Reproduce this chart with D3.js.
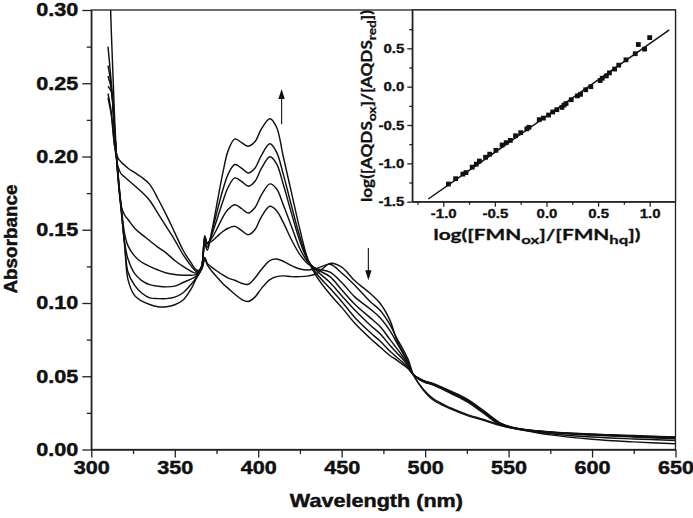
<!DOCTYPE html>
<html><head><meta charset="utf-8">
<script src="https://cdn.jsdelivr.net/npm/d3@7"></script>
<style>body{margin:0;background:#fff} svg{display:block}</style>
</head><body><svg id="c" width="693" height="518"></svg>
<script>
// ---------- DATA ----------
const wavelengths = [310,312,314,316,318,320,322,326,330,335,340,345,350,355,360,363,366,368,369.5,372,375,379,382,386,390,394,398,402,407,411,415,420,425,430,435,443,450,458,467,473,479,483,486,490,493,499,505,515,525,535,545,555,575,600,625,650];
const spectrum1 = [0.360,0.285,0.225,0.185,0.162,0.139,0.116,0.105,0.1015,0.099,0.0975,0.0975,0.0988,0.102,0.110,0.117,0.123,0.140,0.136,0.148,0.166,0.190,0.204,0.212,0.2095,0.2070,0.2100,0.2190,0.2258,0.2200,0.2000,0.1750,0.1500,0.1290,0.1180,0.1060,0.0970,0.0860,0.0760,0.0700,0.0640,0.0610,0.0585,0.0550,0.0510,0.0470,0.0450,0.0400,0.0345,0.0265,0.0182,0.0145,0.0120,0.0105,0.0095,0.0086];
const spectrum2 = [0.275,0.250,0.218,0.186,0.163,0.140,0.121,0.112,0.107,0.1035,0.1030,0.1030,0.1040,0.1070,0.1130,0.1175,0.1235,0.1420,0.1380,0.1470,0.1610,0.1780,0.1880,0.1945,0.1920,0.1888,0.1920,0.2010,0.2087,0.2030,0.1880,0.1660,0.1450,0.1290,0.1200,0.1100,0.1010,0.0900,0.0800,0.0740,0.0670,0.0630,0.0600,0.0555,0.0510,0.0470,0.0448,0.0395,0.0340,0.0260,0.0178,0.0143,0.0120,0.0105,0.0093,0.0084];
const spectrum3 = [0.262,0.248,0.217,0.187,0.164,0.141,0.130,0.120,0.1155,0.1125,0.1115,0.1110,0.1115,0.1140,0.1165,0.1185,0.1240,0.1440,0.1400,0.1460,0.1560,0.1700,0.1790,0.1854,0.1830,0.1797,0.1830,0.1920,0.1998,0.1950,0.1810,0.1610,0.1420,0.1285,0.1220,0.1140,0.1050,0.0950,0.0850,0.0790,0.0710,0.0660,0.0625,0.0565,0.0510,0.0468,0.0445,0.0392,0.0335,0.0256,0.0175,0.0143,0.0118,0.0102,0.0090,0.0080];
const spectrum4 = [0.255,0.246,0.216,0.188,0.165,0.147,0.139,0.132,0.128,0.125,0.1225,0.1205,0.1195,0.1190,0.1190,0.1195,0.1245,0.1450,0.1410,0.1440,0.1500,0.1590,0.1640,0.1671,0.1645,0.1614,0.1650,0.1740,0.1813,0.1780,0.1670,0.1520,0.1370,0.1275,0.1230,0.1180,0.1090,0.0990,0.0900,0.0840,0.0750,0.0690,0.0645,0.0575,0.0510,0.0465,0.0442,0.0388,0.0330,0.0252,0.0172,0.0142,0.0117,0.0100,0.0088,0.0076];
const spectrum5 = [0.248,0.244,0.215,0.189,0.166,0.160,0.157,0.151,0.147,0.1425,0.1380,0.1340,0.1290,0.1250,0.1215,0.1205,0.1250,0.1460,0.1410,0.1420,0.1450,0.1490,0.1510,0.1523,0.1495,0.1466,0.1500,0.1590,0.1660,0.1630,0.1550,0.1430,0.1330,0.1265,0.1235,0.1210,0.1140,0.1040,0.0960,0.0900,0.0810,0.0730,0.0670,0.0590,0.0510,0.0462,0.0440,0.0385,0.0327,0.0248,0.0168,0.0141,0.0116,0.0098,0.0086,0.0073];
const spectrum6 = [0.243,0.230,0.207,0.193,0.188,0.186,0.184,0.180,0.176,0.170,0.161,0.152,0.143,0.133,0.125,0.1215,0.1230,0.1310,0.1270,0.1245,0.1220,0.1190,0.1170,0.1155,0.1135,0.1128,0.1170,0.1230,0.1290,0.1300,0.1285,0.1255,0.1232,0.1225,0.1235,0.1265,0.1205,0.1120,0.1010,0.0950,0.0850,0.0760,0.0700,0.0610,0.0510,0.0410,0.0345,0.0285,0.0240,0.0205,0.0168,0.0140,0.0108,0.0085,0.0072,0.0062];
const spectrum7 = [0.240,0.228,0.207,0.199,0.196,0.194,0.192,0.189,0.186,0.181,0.171,0.160,0.148,0.136,0.127,0.1225,0.1230,0.1300,0.1260,0.1220,0.1180,0.1130,0.1100,0.1060,0.1025,0.1010,0.1040,0.1100,0.1160,0.1180,0.1185,0.1180,0.1180,0.1185,0.1200,0.1270,0.1245,0.1150,0.1066,0.0998,0.0880,0.0747,0.0680,0.0590,0.0507,0.0404,0.0336,0.0279,0.0233,0.0199,0.0164,0.0140,0.0100,0.0070,0.0052,0.0039];
const spectra = [spectrum1, spectrum2, spectrum3, spectrum4, spectrum5, spectrum6, spectrum7];

const xTickValues = [300,350,400,450,500,550,600,650];
const xMinorTicks = [325,375,425,475,525,575,625];
const yTickValues = [0,0.05,0.10,0.15,0.20,0.25,0.30];
const yMinorTicks = [0.025,0.075,0.125,0.175,0.225,0.275];
const xTitle = "Wavelength (nm)";
const yTitle = "Absorbance";

// arrows: [wavelength, tail absorbance, tip absorbance]
const arrowUp = [414, 0.222, 0.246];
const arrowDown = [466, 0.1375, 0.1155];

// inset: Nernst plot
const insetLogFMN  = [-0.95,-0.88,-0.81,-0.78,-0.72,-0.68,-0.65,-0.59,-0.55,-0.49,-0.43,-0.39,-0.35,-0.30,-0.25,-0.19,-0.17,-0.07,-0.03,0.02,0.06,0.10,0.15,0.17,0.19,0.24,0.30,0.33,0.38,0.43,0.52,0.54,0.58,0.61,0.66,0.70,0.77,0.86,0.89,0.95,1.00];
const insetLogAQDS = [-1.27,-1.20,-1.14,-1.12,-1.05,-1.01,-0.97,-0.92,-0.88,-0.83,-0.76,-0.73,-0.70,-0.64,-0.60,-0.55,-0.53,-0.43,-0.41,-0.37,-0.33,-0.30,-0.27,-0.24,-0.22,-0.17,-0.12,-0.10,-0.04,0.00,0.08,0.11,0.14,0.18,0.23,0.28,0.35,0.43,0.55,0.49,0.64];
const fitRange = [-1.145, 1.19];
const fitSlope = 0.944;
const fitIntercept = -0.384;
const insetXTicks = [-1.0,-0.5,0.0,0.5,1.0];
const insetXMinor = [-1.25,-0.75,-0.25,0.25,0.75];
const insetYTicks = [-1.5,-1.0,-0.5,0.0,0.5];
const insetYMinor = [-1.25,-0.75,-0.25,0.25,0.75];

// ---------- DRAW ----------
const svg = d3.select("#c");
const FONT = "'Liberation Sans', Arial, sans-serif";
const SX = 1.2; // horizontal stretch of the original typography
const INK = "#111";

const L = 91.3, R = 675.5, T = 10, B = 449.5;
const x = d3.scaleLinear().domain([300, 650]).range([L, R]);
const y = d3.scaleLinear().domain([0, 0.30]).range([B, T]);

svg.append("defs").append("clipPath").attr("id","plotclip")
  .append("rect").attr("x", L).attr("y", T).attr("width", R-L).attr("height", B-T);

// spectra
const line = d3.line().x((d,i)=>x(wavelengths[i])).y(d=>y(d)).curve(d3.curveCatmullRom.alpha(0.5));
svg.append("g").attr("clip-path","url(#plotclip)")
  .selectAll("path").data(spectra).join("path")
  .attr("d", line).attr("fill","none").attr("stroke",INK).attr("stroke-width",1.45);

// frame
svg.append("rect").attr("x",L).attr("y",T).attr("width",R-L).attr("height",B-T)
  .attr("fill","none").attr("stroke","#222").attr("stroke-width",1.3);

function styleAxis(g){
  g.select(".domain").attr("stroke","#222").attr("stroke-width",1.3);
  g.selectAll(".tick line").attr("stroke","#222").attr("stroke-width",1.3);
}
function boldText(sel, size){
  sel.attr("font-family",FONT).attr("font-weight","bold").attr("font-size",size)
    .attr("fill",INK).attr("stroke",INK).attr("stroke-width",0.45);
}

// x axis
const gx = svg.append("g").attr("transform",`translate(0,${B})`)
  .call(d3.axisBottom(x).tickValues(xTickValues).tickSize(8).tickSizeOuter(0).tickFormat(d3.format("d")));
styleAxis(gx);
boldText(gx.selectAll(".tick text"), 18);
gx.selectAll(".tick text").attr("y",12).attr("dy","0.71em").attr("transform",`scale(${SX},1)`);
const gxm = svg.append("g").attr("transform",`translate(0,${B})`)
  .call(d3.axisBottom(x).tickValues(xMinorTicks).tickSize(4.5).tickFormat(""));
gxm.select(".domain").remove(); styleAxis(gxm);

// y axis
const gy = svg.append("g").attr("transform",`translate(${L},0)`)
  .call(d3.axisLeft(y).tickValues(yTickValues).tickSize(9).tickSizeOuter(0).tickFormat(d3.format(".2f")));
styleAxis(gy);
boldText(gy.selectAll(".tick text"), 18);
gy.selectAll(".tick text").attr("x",-13/SX).attr("transform",`scale(${SX},1)`);
const gym = svg.append("g").attr("transform",`translate(${L},0)`)
  .call(d3.axisLeft(y).tickValues(yMinorTicks).tickSize(4.5).tickFormat(""));
gym.select(".domain").remove(); styleAxis(gym);

// axis titles
const xt = svg.append("text").text(xTitle).attr("text-anchor","middle")
  .attr("transform",`translate(${(L+R)/2 - 7},507) scale(${SX},1)`);
boldText(xt, 18);
const yt = svg.append("text").text(yTitle).attr("text-anchor","middle")
  .attr("transform",`translate(17,239) rotate(-90) scale(1.05,1)`);
boldText(yt, 18);

// arrows
function arrow(a){
  const ax = x(a[0]), y0 = y(a[1]), y1 = y(a[2]);
  const dir = Math.sign(y1 - y0);
  svg.append("line").attr("x1",ax).attr("x2",ax).attr("y1",y0).attr("y2",y1 - dir*8)
    .attr("stroke","#222").attr("stroke-width",1.2);
  svg.append("path").attr("d",`M${ax},${y1} L${ax-3.2},${y1-dir*10} L${ax+3.2},${y1-dir*10} Z`).attr("fill",INK);
}
arrow(arrowUp); arrow(arrowDown);

// ---------- INSET ----------
const iL = 412.3, iR = 675.5, iT = 10, iB = 201.7;
const ix = d3.scaleLinear().domain([-1.3, 1.25]).range([iL, iR]);
const iy = d3.scaleLinear().domain([-1.5, 1.0]).range([iB, iT]);
const fmt1 = d => d.toFixed(1);

svg.append("rect").attr("x",iL).attr("y",iT).attr("width",iR-iL).attr("height",iB-iT)
  .attr("fill","#fff").attr("stroke","#222").attr("stroke-width",1.3);

const gix = svg.append("g").attr("transform",`translate(0,${iB})`)
  .call(d3.axisBottom(ix).tickValues(insetXTicks).tickSize(5).tickSizeOuter(0).tickFormat(fmt1));
styleAxis(gix);
boldText(gix.selectAll(".tick text"), 12.5);
gix.selectAll(".tick text").attr("stroke-width",0.3).attr("y",7).attr("dy","0.71em").attr("transform",`scale(${SX},1)`);
const gixm = svg.append("g").attr("transform",`translate(0,${iB})`)
  .call(d3.axisBottom(ix).tickValues(insetXMinor).tickSize(3).tickFormat(""));
gixm.select(".domain").remove(); styleAxis(gixm);

const giy = svg.append("g").attr("transform",`translate(${iL},0)`)
  .call(d3.axisLeft(iy).tickValues(insetYTicks).tickSize(5).tickSizeOuter(0).tickFormat(fmt1));
styleAxis(giy);
boldText(giy.selectAll(".tick text"), 12.5);
giy.selectAll(".tick text").attr("stroke-width",0.3).attr("x",-8/SX).attr("transform",`scale(${SX},1)`);
const giym = svg.append("g").attr("transform",`translate(${iL},0)`)
  .call(d3.axisLeft(iy).tickValues(insetYMinor).tickSize(3).tickFormat(""));
giym.select(".domain").remove(); styleAxis(giym);

// fit line
svg.append("line")
  .attr("x1", ix(fitRange[0])).attr("y1", iy(fitSlope*fitRange[0]+fitIntercept))
  .attr("x2", ix(fitRange[1])).attr("y2", iy(fitSlope*fitRange[1]+fitIntercept))
  .attr("stroke",INK).attr("stroke-width",1.5);

// points
svg.append("g").selectAll("rect").data(insetLogFMN).join("rect")
  .attr("x",(d)=>ix(d)-2.4).attr("y",(d,i)=>iy(insetLogAQDS[i])-2.4)
  .attr("width",4.8).attr("height",4.8).attr("fill",INK);

// inset titles with subscripts
const IFONT = "Lato, 'Open Sans', sans-serif";
function subLabel(parts, tf, target){
  const t = svg.append("text").attr("font-family",IFONT).attr("font-weight","bold")
    .attr("font-size",15).attr("fill",INK).attr("stroke",INK).attr("stroke-width",0.3)
    .attr("text-anchor","middle");
  parts.forEach(p=>{
    const ts = t.append("tspan").text(p[0]);
    if (p[1]==="sub") ts.attr("font-size",12).attr("dy","4");
    if (p[1]==="up") ts.attr("dy","-4");
  });
  const len = t.node().getComputedTextLength();
  t.attr("transform", tf + ` scale(${target/len},1)`);
}
subLabel([["log([FMN"],["ox","sub"],["]/[FMN","up"],["hq","sub"],["])","up"]],
  `translate(537,240)`, 207);
subLabel([["log([AQDS"],["ox","sub"],["]/[AQDS","up"],["red","sub"],["])","up"]],
  `translate(372,106) rotate(-90)`, 192);
</script></body></html>
